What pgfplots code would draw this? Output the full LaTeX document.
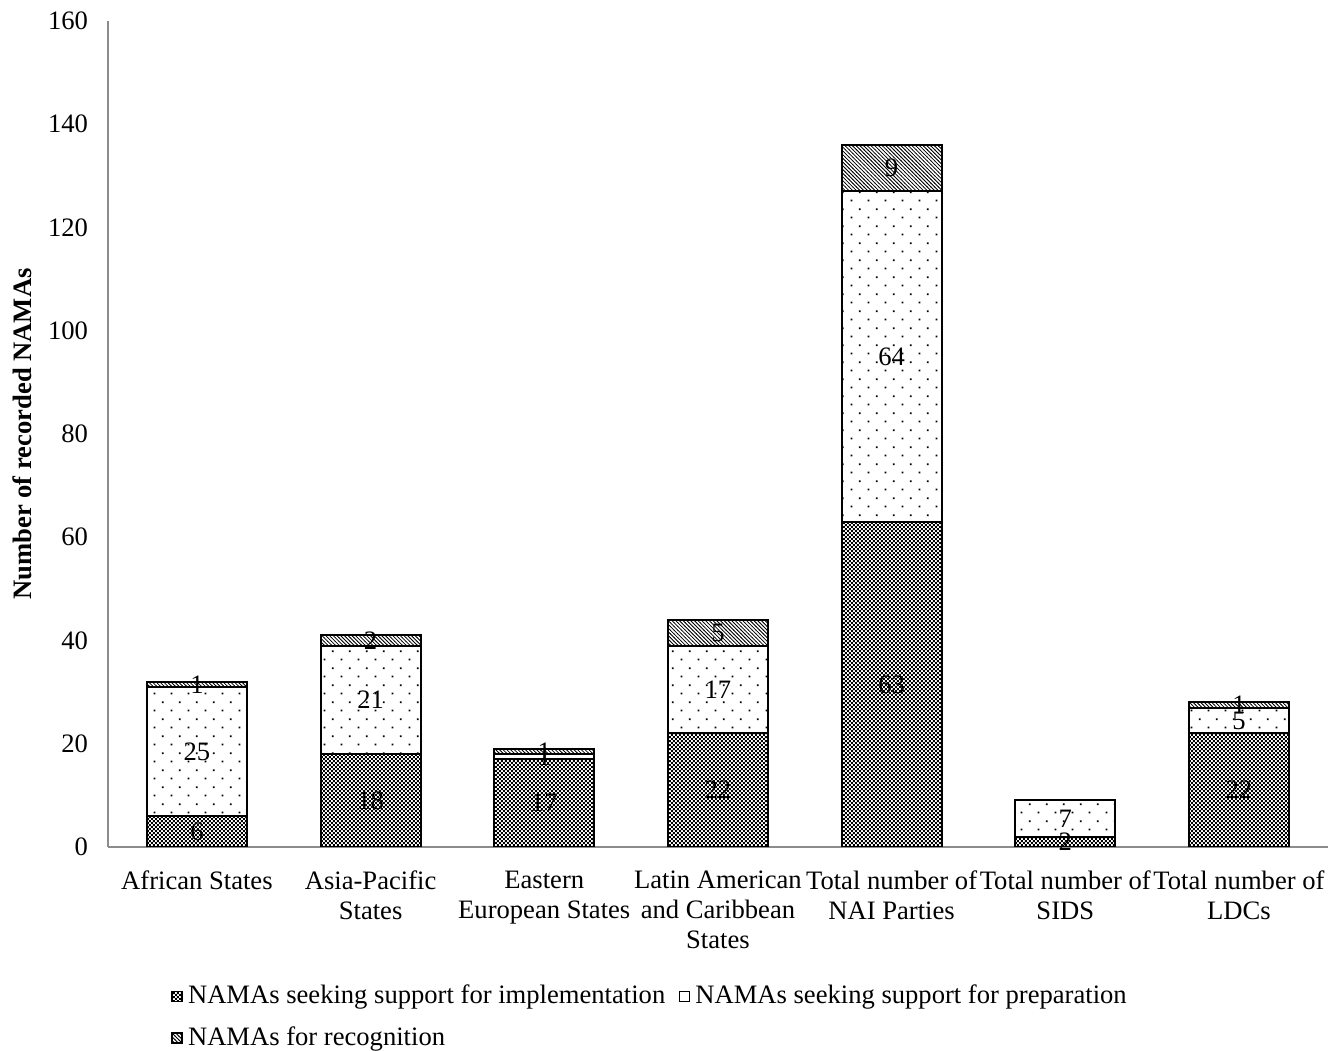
\documentclass[border=0pt]{standalone}
\usepackage{fontspec}
\setmainfont{Liberation Serif}
\usepackage{pgfplots}
\usepackage{pgfplotstable}
\pgfplotsset{compat=1.18}
\usetikzlibrary{patterns}

% fill patterns of the three series
\pgfdeclarepatternformonly{checks}{\pgfpointorigin}{\pgfqpoint{1.5pt}{1.5pt}}{\pgfqpoint{1.5pt}{1.5pt}}{%
  \pgfpathrectangle{\pgfpointorigin}{\pgfqpoint{0.75pt}{0.75pt}}%
  \pgfpathrectangle{\pgfqpoint{0.75pt}{0.75pt}}{\pgfqpoint{0.75pt}{0.75pt}}%
  \pgfusepath{fill}}
\pgfdeclarepatternformonly{sparsedots}{\pgfpointorigin}{\pgfqpoint{6.3pt}{6.3pt}}{\pgfqpoint{6.3pt}{6.3pt}}{%
  \pgfpathrectangle{\pgfqpoint{1pt}{1pt}}{\pgfqpoint{0.7pt}{0.7pt}}%
  \pgfpathrectangle{\pgfqpoint{4.15pt}{4.15pt}}{\pgfqpoint{0.7pt}{0.7pt}}%
  \pgfusepath{fill}}
\pgfdeclarepatternformonly{backlines}{\pgfqpoint{-0.5pt}{-0.5pt}}{\pgfqpoint{1.9pt}{1.9pt}}{\pgfqpoint{1.4pt}{1.4pt}}{%
  \pgfsetlinewidth{0.3pt}%
  \pgfpathmoveto{\pgfqpoint{-0.1pt}{1.5pt}}%
  \pgfpathlineto{\pgfqpoint{1.5pt}{-0.1pt}}%
  \pgfusepath{stroke}}

\pgfplotstableread{
x impl prep recog
0 6  25 1
1 18 21 2
2 17 1  1
3 22 17 5
4 63 64 9
5 2  7  0
6 22 5  1
}\namas

\def\zerostr{0}

\begin{document}
\begin{tikzpicture}
\begin{axis}[
    scale only axis,
    width=458.6pt, height=310.5pt,
    ybar stacked,
    bar width=0.576,
    xmin=-0.512, xmax=6.512,
    ymin=0, ymax=160,
    ytick={0,20,...,160},
    xtick={0,...,6},
    xticklabels={African States,{Asia-Pacific\\States},{Eastern\\European States},{Latin American\\and Caribbean\\States},{Total number of\\NAI Parties},{Total number of\\SIDS},{Total number of\\LDCs}},
    xticklabel style={align=center, font=\fontsize{10}{11.3}\selectfont, yshift=-5.5pt},
    yticklabel style={xshift=-4pt, font=\fontsize{10}{12}\selectfont},
    /pgf/number format/assume math mode=true,
    axis x line*=bottom, axis y line*=left,
    axis line style={black!45, line width=0.6pt},
    major tick length=0pt,
    ylabel={\textbf{Number of recorded NAMAs}},
    ylabel style={at={(axis description cs:-0.0704,0.5)}, anchor=center, font=\fontsize{10}{12}\selectfont},
    point meta=explicit symbolic,
    nodes near coords={\ifx\pgfplotspointmeta\zerostr\else\pgfplotspointmeta\fi},
    % stacked segments already get their label at mid-height
    every node near coord/.append style={anchor=center, font=\fontsize{10}{12}\selectfont, text=black},
    legend columns=2,
    legend cell align=left,
    legend style={at={(axis description cs:0.0449,-0.1539)}, anchor=north west, draw=none,
        font=\fontsize{10}{12}\selectfont, row sep=3pt,
        /tikz/every even column/.append style={column sep=3pt}},
    legend image code/.code={\draw[#1, line width=0.5pt] (0pt,-1.9pt) rectangle (3.8pt,1.9pt);},
]
\addplot[draw=black, line width=0.75pt, pattern=checks, pattern color=black]
    table[x=x, y=impl, meta=impl] {\namas};
\addplot[draw=black, line width=0.75pt, pattern=sparsedots, pattern color=black]
    table[x=x, y=prep, meta=prep] {\namas};
\addplot[draw=black, line width=0.75pt, pattern=backlines, pattern color=black]
    table[x=x, y=recog, meta=recog] {\namas};
\legend{NAMAs seeking support for implementation, NAMAs seeking support for preparation, NAMAs for recognition}
\end{axis}
\pgfresetboundingbox
\path (current axis.south west) ++(-40.6pt,-76.7pt) rectangle ++(500pt,395.1pt);
\end{tikzpicture}
\end{document}
